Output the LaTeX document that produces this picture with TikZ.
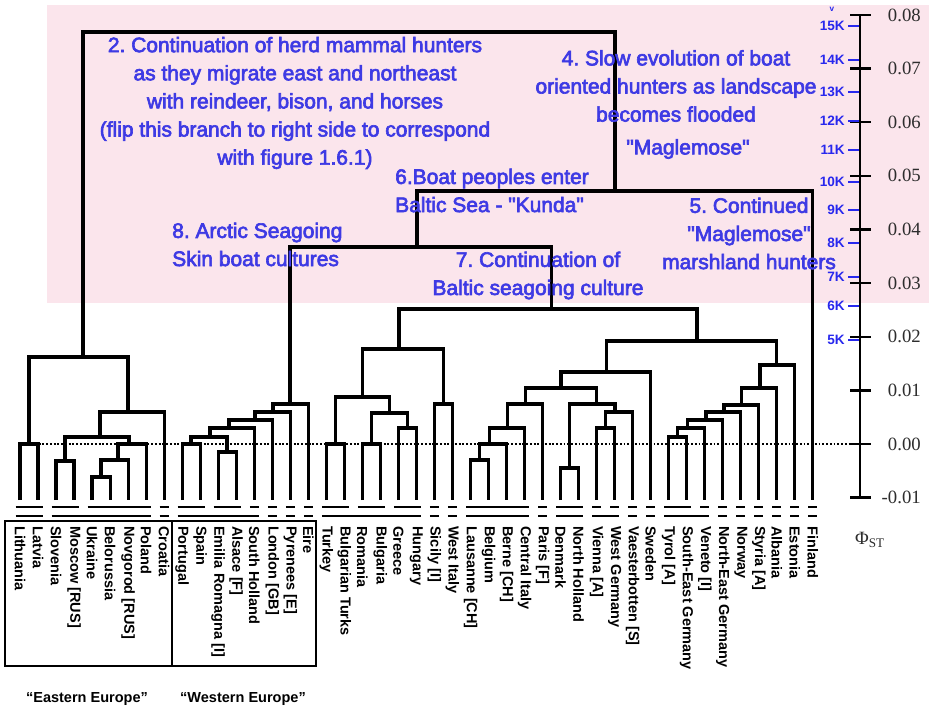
\documentclass[tikz,border=0pt]{standalone}
\usepackage{fontspec}
\setmainfont{Liberation Sans}
\newfontfamily\axisfont{Liberation Serif}
\newfontfamily\notefont[BoldFont={Liberation Sans}, BoldFeatures={FakeBold=3}]{Liberation Sans}
\usetikzlibrary{calc}

\definecolor{annot}{RGB}{62,58,228}
\definecolor{kblue}{RGB}{40,40,238}
\definecolor{flood}{RGB}{251,229,236}
\definecolor{axisgray}{RGB}{45,45,45}

\frenchspacing

\begin{document}
\begin{tikzpicture}[x=0.03cm, y=-0.03cm,
  branch/.style={line width=2.7pt},
  groupbar/.style={line width=1.7pt},
  regionbox/.style={line width=1pt},
  leaflabel/.style={rotate=-90, anchor=west, inner sep=0pt, font=\bfseries\fontsize{12.4}{14}\selectfont},
  grouplabel/.style={inner sep=0pt, font=\bfseries\fontsize{12.4}{14}\selectfont},
  note/.style={text=annot, align=center, inner sep=0pt, font=\notefont\bfseries\fontsize{17.9}{24}\selectfont},
  axisnum/.style={anchor=east, inner sep=0pt, text=axisgray, font=\axisfont\fontsize{16}{18}\selectfont},
  klabel/.style={anchor=east, inner sep=0pt, text=kblue, font=\bfseries\fontsize{11.6}{13}\selectfont},
  ktick/.style={kblue, line width=1.7pt}]

  % Define positions of leaves and scale
  \def\lx{20}        % x of first leaf
  \def\dx{18.02}     % leaf spacing
  \def\leafbot{500}  % bottom of leaf stems
  \def\zeroy{444}    % Phi_ST = 0.00

  \useasboundingbox (0,0) rectangle (929,712);
  \fill[white] (0,0) rectangle (929,712);

  % --- Flooded time band ---
  \fill[flood] (47,5) rectangle (929,303);

  % --- Leaves ---
  \foreach \nm/\lab [count=\i] in {lith/Lithuania, latv/Latvia, slov/Slovenia, mosc/Moscow [RUS],
      ukr/Ukraine, bel/Belorussia, novg/Novgorod [RUS], pol/Poland, cro/Croatia, port/Portugal,
      spa/Spain, emil/Emilia Romagna [I], als/Alsace [F], shol/South Holland, lond/London [GB],
      pyr/Pyrenees [E], eire/Eire, turk/Turkey, bturk/Bulgarian Turks, rom/Romania, bul/Bulgaria,
      gre/Greece, hun/Hungary, sic/Sicily [I], wita/West Italy, laus/Lausanne [CH], belg/Belgium,
      bern/Berne [CH], cita/Central Italy, par/Paris [F], den/Denmark, nhol/North Holland,
      vien/Vienna [A], wger/West Germany, vaes/Vaesterbotten [S], swe/Sweden, tyr/Tyrol [A],
      seger/South-East Germany, ven/Veneto [I], neger/North-East Germany, norw/Norway,
      sty/Styria [A], alb/Albania, est/Estonia, fin/Finland} {
    \coordinate (\nm) at ({\lx+\dx*(\i-1)}, \leafbot);
    \node[leaflabel] (\nm-name) at ({\lx+\dx*(\i-1)}, 526) {\lab};
  }

  % --- Zero line ---
  \draw[line width=1.5pt, dash pattern=on 1.6pt off 1.6pt] (\lx, \zeroy) -- (860, \zeroy);

  % --- Clusters: name / child / child / x / y ---
  \foreach \j/\a/\b/\x/\y in {
      e1/lith/latv/29/444, e2/slov/mosc/65/461, e3/ukr/bel/101/477, e4/e3/novg/118/460,
      e5/e4/pol/129/444, e6/e2/e5/100/437, e7/e6/cro/128/412, e8/e1/e7/83/357,
      w1/port/spa/191/444, w2/emil/als/227/452, w3/w1/w2/210/437, w4/w3/shol/229/428,
      w5/w4/lond/255/420, w6/w5/pyr/273/412, w7/w6/eire/290/404,
      b1/turk/bturk/335.5/444, b2/rom/bul/371.5/444, b3/gre/hun/407.5/428, b4/b2/b3/389.5/413,
      b5/b1/b4/362.5/397, b6/sic/wita/443.5/404, b7/b5/b6/399/349,
      c1/laus/belg/479.5/460, c2/c1/bern/489.5/444, c3/c2/cita/507.3/428, c4/c3/par/525.7/404,
      c5/den/nhol/569.6/468, c6/vien/wger/605.7/428, c7/c6/vaes/615/412, c8/c5/c7/596.7/404,
      c9/c4/c8/561/388, c10/c9/swe/606.7/372,
      n1/tyr/seger/677.7/437, n2/n1/ven/687.3/428, n3/n2/neger/706/420, n4/n3/norw/724/412,
      n5/n4/sty/741.7/405, n6/n5/alb/760/388, n7/n6/est/776.7/365,
      c11/c10/n7/697/341, bal/b7/c11/551.7/309, arc/w7/bal/417/247, kun/arc/fin/615/191,
      root/e8/kun/349/32} {
    \coordinate (\j) at (\x, \y);
    \draw[branch] (\a) |- (\j) -| (\b);
  }

  % --- Grouping bars under the leaves ---
  \foreach \a/\b in {lith/latv, slov/mosc, ukr/pol, cro/cro, port/spa, emil/als, shol/shol,
      lond/lond, pyr/pyr, eire/eire, turk/bturk, rom/bul, gre/hun, sic/sic, wita/wita, laus/cita,
      par/par, den/nhol, vien/vien, wger/wger, vaes/vaes, swe/swe, tyr/seger, ven/ven,
      neger/neger, norw/norw, sty/sty, alb/alb, est/est, fin/fin}
    \draw[groupbar] ($(\a |- 0,507)+(-4.5,0)$) -- ($(\b |- 0,507)+(4.5,0)$);
  \foreach \a/\b in {lith/latv, slov/pol, cro/cro, port/shol, lond/lond, pyr/pyr, eire/eire,
      turk/hun, sic/sic, wita/wita, laus/cita, par/par, den/nhol, vien/wger, vaes/vaes, swe/swe,
      tyr/ven, neger/neger, norw/norw, sty/sty, alb/alb, est/est, fin/fin}
    \draw[groupbar] ($(\a |- 0,516)+(-4.5,0)$) -- ($(\b |- 0,516)+(4.5,0)$);

  % --- Regions ---
  \draw[regionbox] (5,521) rectangle (172,666);
  \draw[regionbox] (172,521) rectangle (316,666);
  \node[grouplabel] (east-lab) at (87,699) {“Eastern Europe”};
  \node[grouplabel] (west-lab) at (243,699) {“Western Europe”};

  % --- Phi_ST axis ---
  \draw[line width=2pt] (860,15) -- (860,497.6);
  \foreach \v [count=\k from 0] in {0.08,0.07,0.06,0.05,0.04,0.03,0.02,0.01,0.00,-0.01} {
    \draw[line width=2pt] (850,{15+53.625*\k}) -- (871,{15+53.625*\k});
    \node[axisnum] (tick\k) at (921,{15+53.625*\k}) {\v};
  }
  \node[text=axisgray, font=\axisfont\fontsize{16}{18}\selectfont] (phist) at (870,540) {Φ\textsubscript{ST}};

  % --- Years before present ---
  \foreach \lab/\y in {15K/26, 14K/60, 13K/92, 12K/121, 11K/150, 10K/182, 9K/210, 8K/243,
      7K/277, 6K/306, 5K/340} {
    \draw[ktick] (848,\y) -- (859,\y);
    \node[klabel] (k\lab) at (845,\y) {\lab};
  }
  \node[text=kblue, font=\bfseries\fontsize{7}{8}\selectfont, inner sep=0pt] (kmore) at (832,9) {v};

  % --- Notes ---
  \node[note] (note2) at (295,103) {2. Continuation of herd mammal hunters\\
    as they migrate east and northeast\\ with reindeer, bison, and horses\\
    (flip this branch to right side to correspond\\ with figure 1.6.1)};
  \node[note] (note4) at (676,86) {4. Slow evolution of boat\\
    oriented hunters as landscape\\ becomes flooded};
  \node[note] (note4b) at (688,149) {\textquotedbl Maglemose\textquotedbl};
  \node[note, anchor=west, align=left] (note6) at (395,190.5) {6.Boat peoples enter\\
    Baltic Sea - \textquotedbl Kunda\textquotedbl};
  \node[note, anchor=west, align=left] (note8) at (172,244.5) {8. Arctic Seagoing\\
    Skin boat cultures};
  \node[note] (note7) at (538,275.5) {7. Continuation of\\ Baltic seagoing culture};
  \node[note] (note5) at (749,233.5) {5. Continued\\ \textquotedbl Maglemose\textquotedbl\\
    marshland hunters};

\end{tikzpicture}
\end{document}
